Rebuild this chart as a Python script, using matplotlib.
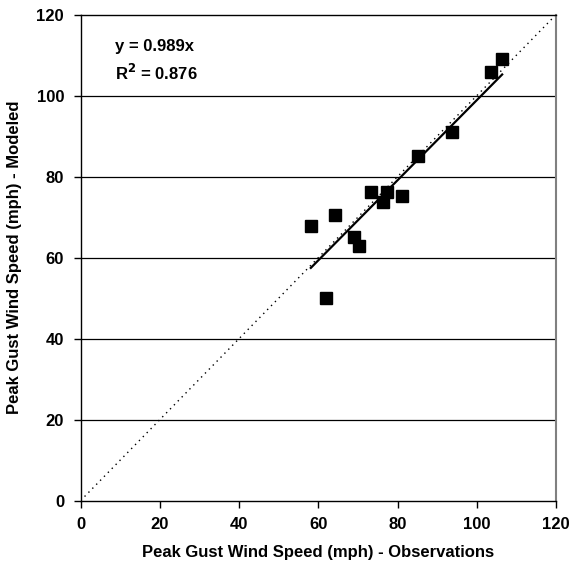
import numpy as np
import matplotlib.pyplot as plt

plt.rcParams['font.family'] = ['Liberation Sans', 'DejaVu Sans']
plt.rcParams['font.weight'] = 'bold'

# observed vs modeled peak gusts (mph)
observed = [106.4, 103.6, 93.8, 85.2, 73.2, 77.3, 81.1, 76.2, 64.2, 58.1, 69.0, 70.3, 62.0]
modeled = [109.1, 105.8, 91.0, 85.0, 76.1, 76.1, 75.3, 73.7, 70.6, 67.9, 65.1, 62.9, 50.1]
slope = 0.989
r2 = 0.876
ticks = [0, 20, 40, 60, 80, 100, 120]

fig = plt.figure(figsize=(5.75, 5.7), dpi=100)
ax = fig.add_axes([0.1403, 0.1219, 0.8267, 0.8523])

# horizontal gridlines
for t in ticks[1:-1]:
    ax.axhline(t, color='black', lw=0.9, zorder=1)

# 1:1 line
ax.plot([0, 120], [0, 120], color='black', lw=1.0, ls=(0, (1, 3)), zorder=2)

# trendline through origin
xs = np.array([min(observed), max(observed)])
ax.plot(xs, slope * xs, color='black', lw=1.6, zorder=3)

ax.plot(observed, modeled, 's', color='black', ms=8, mec='black', zorder=4)

ax.text(8.7, 112.1, 'y = %.3fx' % slope, fontsize=12, fontweight='bold', va='center', ha='left')
ax.text(8.7, 105.7, 'R$^{\\mathbf{2}}$ = %.3f' % r2, fontsize=12, fontweight='bold', va='center', ha='left')

ax.set_xlim(0, 120)
ax.set_ylim(0, 120)
ax.set_xticks(ticks)
ax.set_yticks(ticks)
ax.tick_params(direction='out', length=5, width=1, labelsize=12, pad=7)
for lab in ax.get_xticklabels() + ax.get_yticklabels():
    lab.set_fontweight('bold')

ax.spines['left'].set_linewidth(1.0)
ax.spines['bottom'].set_linewidth(1.0)
ax.spines['top'].set_linewidth(1.0)
ax.spines['right'].set_color('#808080')
ax.spines['right'].set_linewidth(1.5)

ax.set_xlabel('Peak Gust Wind Speed (mph) - Observations', fontsize=12, fontweight='bold', labelpad=9)
ax.set_ylabel('Peak Gust Wind Speed (mph) - Modeled', fontsize=12, fontweight='bold', labelpad=10)

fig.savefig('out.png', dpi=100)
